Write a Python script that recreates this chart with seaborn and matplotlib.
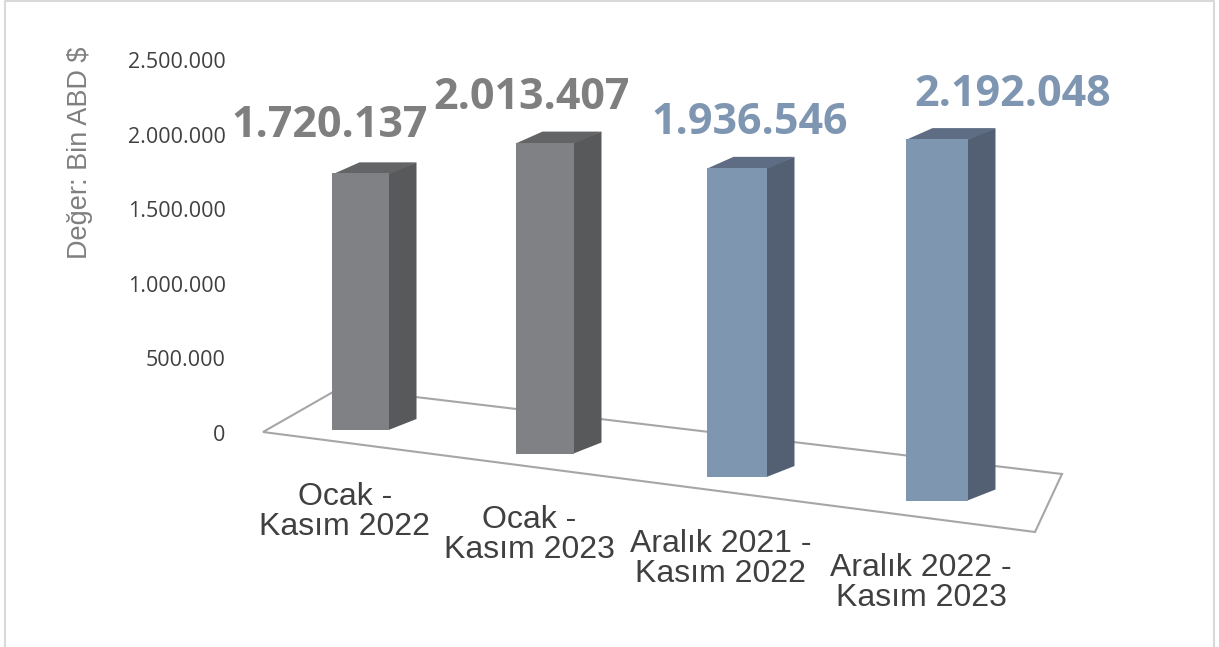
import matplotlib
matplotlib.use("Agg")
import matplotlib.pyplot as plt
from matplotlib.patches import Polygon
from matplotlib.lines import Line2D
import seaborn as sns

# ------------------------------
# data
# ------------------------------
categories = ["Ocak -\nKasım 2022", "Ocak -\nKasım 2023",
              "Aralık 2021 -\nKasım 2022", "Aralık 2022 -\nKasım 2023"]
values = [1720137, 2013407, 1936546, 2192048]
value_labels = ["1.720.137", "2.013.407", "1.936.546", "2.192.048"]
y_ticks = [0, 500000, 1000000, 1500000, 2000000, 2500000]
y_tick_labels = ["0", "500.000", "1.000.000", "1.500.000", "2.000.000", "2.500.000"]

front_colors = ["#808185", "#808185", "#7f96b1", "#7f96b1"]
side_colors = ["#58595b", "#58595b", "#536074", "#536074"]
top_colors = ["#636466", "#636466", "#5e6d83", "#5e6d83"]
label_colors = ["#7f7f7f", "#7f7f7f", "#7f96b2", "#7f96b2"]

# horizontal nudge (pixels) of each value label, as in the original layout
label_nudge = [-31, -13, 13, 76]

# ------------------------------
# pixel <-> data helpers (fake 3D perspective)
# ------------------------------
W, H = 1219, 647
X0, XS = 361, 192        # pixel of first category, pixels per category
Y0, YS = 433, 149.2e-6   # pixel of zero, pixels per value unit


def to_data(px, py):
    return (px - X0) / XS, (Y0 - py) / YS


def dx(p):
    return p / XS


def dy(p):
    return p / YS


sns.set_theme(style="white")
plt.rcParams["font.family"] = ["Liberation Sans", "DejaVu Sans"]

fig = plt.figure(figsize=(W / 100, H / 100), dpi=100)
# light frame (no bottom edge, as in the original)
frame = [5 / W, 5 / W, 1214 / W, 1214 / W], [0, 1 - 1 / H, 1 - 1 / H, 0]
fig.lines.append(Line2D(*frame, transform=fig.transFigure, color="#d9d9d9", linewidth=1.5))

left, right, top, bottom = 245, 1200, 15, 640
ax = fig.add_axes([left / W, (H - bottom) / H, (right - left) / W, (bottom - top) / H])

sns.barplot(x=categories, y=values, hue=categories, palette=front_colors,
            width=0.3, legend=False, ax=ax, saturation=1, zorder=3)

x_lo, y_hi = to_data(left, top)
x_hi, y_lo = to_data(right, bottom)
ax.set_xlim(x_lo, x_hi)
ax.set_ylim(y_lo, y_hi)

# floor
floor = [to_data(263, 432), to_data(340, 388), to_data(1062, 474), to_data(1035, 532)]
ax.add_patch(Polygon(floor, closed=True, facecolor="white", edgecolor="#a6a6a6",
                     linewidth=1.5, zorder=1))

ddx, ddy = dx(27), dy(11)
for i, p in enumerate(ax.patches[:len(values)]):
    scale = 1 + 0.035 * i
    base = dy(3 - 23.5 * i)
    cx = p.get_x() + p.get_width() / 2 - dx(4 * i * (3 - i))
    w = p.get_width() * 190 / XS * scale
    h = values[i] * scale
    p.set_x(cx - w / 2)
    p.set_width(w)
    p.set_y(base)
    p.set_height(h)
    p.set_edgecolor("none")
    p.set_linewidth(0)
    x0, x1, t = cx - w / 2, cx + w / 2, base + h
    xs = x1 - dx(1)
    ax.add_patch(Polygon([(xs, base), (xs, t), (x1 + ddx, t + ddy), (x1 + ddx, base + ddy)],
                         facecolor=side_colors[i], edgecolor="none", zorder=2.9))
    ax.add_patch(Polygon([(x0, t - dy(1)), (x1, t - dy(1)), (x1 + ddx, t + ddy), (x0 + ddx, t + ddy)],
                         facecolor=top_colors[i], edgecolor="none", zorder=2.9))
    ax.text(cx + dx(label_nudge[i]), t + dy(45 + 3 * (i == 0)), value_labels[i],
            ha="center", va="center", fontsize=31, fontweight="bold",
            color=label_colors[i], family="Open Sans")
    ax.text(cx + dx(-16), base - dy(82), categories[i], ha="center", va="center",
            fontsize=23, color="#404040", linespacing=1.0)

ax.set_xticks([])
ax.set_yticks(y_ticks)
ax.set_yticklabels(y_tick_labels, family="Open Sans", fontsize=15.5, color="#404040")
ax.tick_params(axis="y", length=0, pad=14)
for s in ax.spines.values():
    s.set_visible(False)
ax.patch.set_alpha(0)

fig.text(80 / W, 1 - 153 / H, "Değer: Bin ABD $", rotation=90, ha="center", va="center",
         fontsize=19.5, color="#7f7f7f")

fig.savefig("out.png", dpi=100, facecolor="white")
